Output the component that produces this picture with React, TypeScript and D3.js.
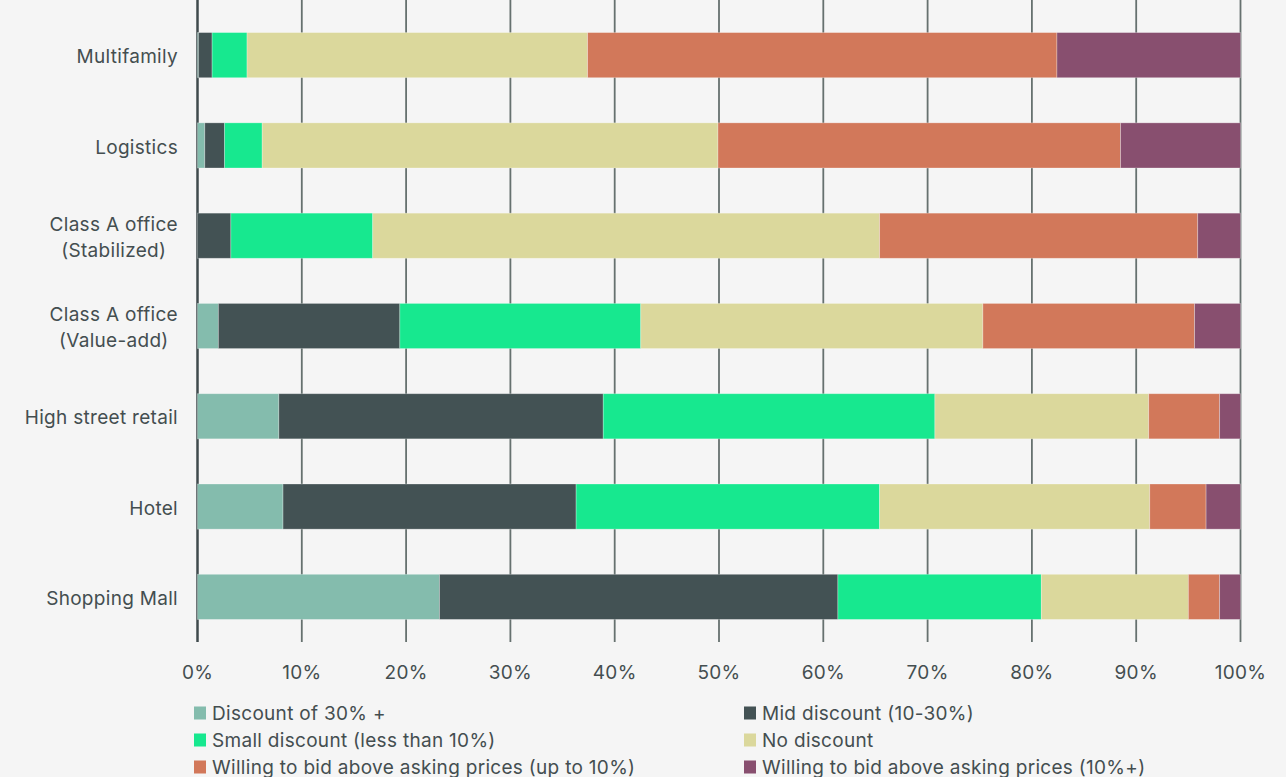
import React, { useEffect, useRef } from "react";
import * as d3 from "d3";

const categories = [
  "Multifamily",
  "Logistics",
  "Class A office\n(Stabilized)",
  "Class A office\n(Value-add)",
  "High street retail",
  "Hotel",
  "Shopping Mall",
];

const seriesNames = [
  "Discount of 30% +",
  "Mid discount (10-30%)",
  "Small discount (less than 10%)",
  "No discount",
  "Willing to bid above asking prices (up to 10%)",
  "Willing to bid above asking prices (10%+)",
];

const seriesColors = ["#84bcad", "#435254", "#17e88f", "#dbd89c", "#d2785a", "#884f6f"];

const discount30 = [0.1, 0.7, 0, 2.0, 7.8, 8.2, 23.2];
const midDiscount = [1.3, 1.9, 3.2, 17.4, 31.1, 28.1, 38.2];
const smallDiscount = [3.35, 3.6, 13.6, 23.1, 31.8, 29.1, 19.5];
const noDiscount = [32.65, 43.7, 48.6, 32.8, 20.5, 25.9, 14.1];
const bidUpTo10 = [45.0, 38.6, 30.5, 20.3, 6.8, 5.4, 3.0];
const bid10Plus = [17.6, 11.5, 4.1, 4.4, 2.0, 3.3, 2.0];

const tickValues = [0, 10, 20, 30, 40, 50, 60, 70, 80, 90, 100];

const W = 1286;
const H = 777;
const FONT = "Inter, 'Open Sans', sans-serif";
const TEXT = "#444e50";
const LS = "0.3px";

export default function App() {
  const ref = useRef<SVGSVGElement | null>(null);

  useEffect(() => {
    document.body.style.margin = "0";
    document.body.style.background = "#f5f5f5";
    const svg = d3.select(ref.current!);
    svg.selectAll("*").remove();

    const x = d3.scaleLinear().domain([0, 100]).range([197.5, 1240.5]);
    const y = d3
      .scaleBand<string>()
      .domain(categories)
      .range([10, 642])
      .paddingInner(0.5)
      .paddingOuter(0.25);

    const values = [discount30, midDiscount, smallDiscount, noDiscount, bidUpTo10, bid10Plus];
    const rows = categories.map((c, i) => {
      const o: any = { cat: c };
      seriesNames.forEach((s, k) => (o[s] = values[k][i]));
      return o;
    });
    const stacked = d3.stack<any>().keys(seriesNames)(rows);

    svg.append("rect").attr("width", W).attr("height", H).attr("fill", "#f5f5f5");

    // gridlines
    const grid = svg.append("g");
    tickValues.forEach((t) => {
      grid
        .append("line")
        .attr("x1", x(t))
        .attr("x2", x(t))
        .attr("y1", 0)
        .attr("y2", 642)
        .attr("stroke", t === 0 ? "#3f4a4c" : "#66716f")
        .attr("stroke-width", t === 0 ? 2.5 : 1.8);
    });

    // bars
    stacked.forEach((layer, k) => {
      svg
        .append("g")
        .selectAll("rect")
        .data(layer)
        .join("rect")
        .attr("x", (d) => x(d[0]))
        .attr("width", (d) => Math.max(0, x(d[1]) - x(d[0])))
        .attr("y", (d: any) => y(d.data.cat)!)
        .attr("height", y.bandwidth())
        .attr("fill", seriesColors[k])
        .attr("stroke", "#ffffff")
        .attr("stroke-opacity", 0.35)
        .attr("stroke-width", 0.8);
    });

    // tick labels
    tickValues.forEach((t) => {
      svg
        .append("text")
        .attr("x", x(t))
        .attr("y", 672)
        .attr("dy", "0.35em")
        .attr("text-anchor", "middle")
        .attr("font-family", FONT)
        .attr("font-size", 19)
        .attr("letter-spacing", LS)
        .attr("fill", TEXT)
        .text(`${t}%`);
    });

    // y labels
    categories.forEach((c) => {
      const lines = c.split("\n");
      const cy = y(c)! + y.bandwidth() / 2 + 1.5;
      const t = svg
        .append("text")
        .attr("font-family", FONT)
        .attr("font-size", 19)
        .attr("letter-spacing", LS)
        .attr("fill", TEXT)
        .attr("text-anchor", "middle");
      lines.forEach((ln, i) => {
        t.append("tspan")
          .attr("x", 0)
          .attr("y", cy + (i - (lines.length - 1) / 2) * 26)
          .attr("dy", "0.35em")
          .text(ln);
      });
      const bw = (t.node() as SVGTextElement).getBBox().width;
      const cx = 178 - bw / 2;
      t.selectAll("tspan").attr("x", cx);
    });

    // legend
    const legX = [194, 744];
    const legY = [713, 740, 767];
    seriesNames.forEach((s, k) => {
      const col = k % 2;
      const row = Math.floor(k / 2);
      const g = svg.append("g").attr("transform", `translate(${legX[col]},${legY[row]})`);
      g.append("rect").attr("x", 0).attr("y", -6.5).attr("width", 12).attr("height", 13).attr("fill", seriesColors[k]);
      g.append("text")
        .attr("x", 18)
        .attr("y", 0)
        .attr("dy", "0.35em")
        .attr("font-family", FONT)
        .attr("font-size", 19)
        .attr("letter-spacing", LS)
        .attr("fill", TEXT)
        .text(s);
    });
  }, []);

  return <svg ref={ref} width={W} height={H} style={{ display: "block" }} />;
}
